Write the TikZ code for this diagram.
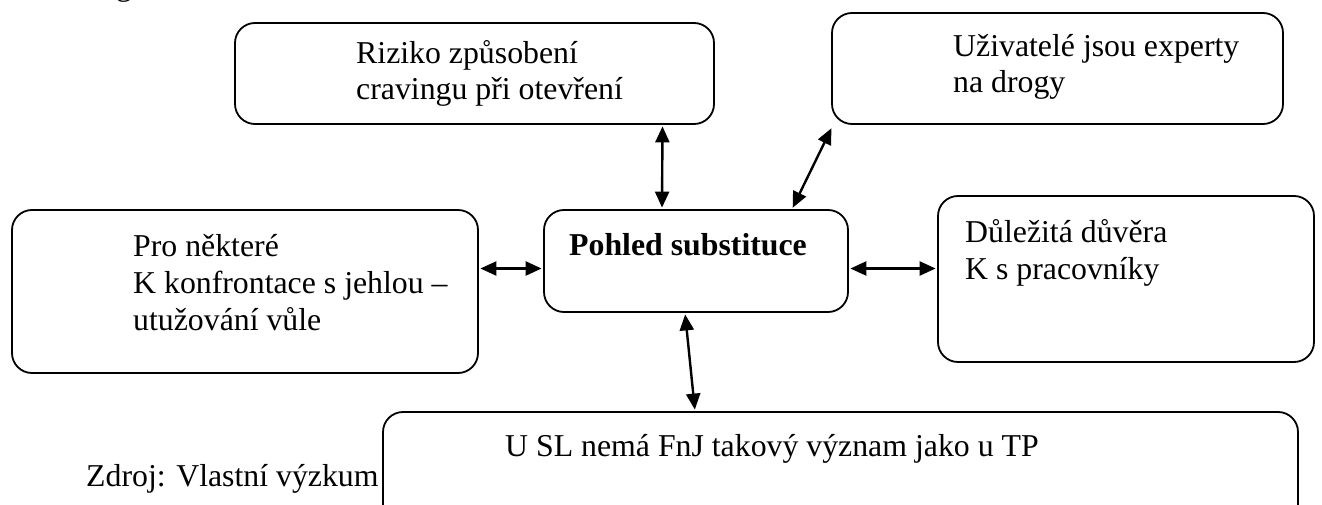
\documentclass[tikz,border=0pt]{standalone}
\usepackage{fontspec}
\setmainfont{Liberation Serif}
\usetikzlibrary{arrows.meta}
% left-aligned block of lines whose baseline is the first line
\newcommand{\rowsof}[1]{\begin{tabular}[t]{@{}l@{}}#1\end{tabular}}
\begin{document}
\begin{tikzpicture}[x=1pt,y=-1pt,
  box/.style={draw, line width=1.8pt, rounded corners=20pt, inner sep=0pt},
  txt/.style={inner sep=0pt, anchor=base west, font=\fontsize{31.8pt}{36pt}\selectfont},
  txtwide/.style={txt, font=\fontsize{31.8pt}{37pt}\selectfont},
  link/.style={line width=2.4pt, {Triangle[length=16pt,width=14pt]}-{Triangle[length=16pt,width=14pt]}, shorten <=1.5pt, shorten >=1.5pt}]
\useasboundingbox (0,0) rectangle (1322,505);

% descender of the preceding line of text
\node[txt] (prev) at (116,-4.5) {g};

% boxes
\node[box, minimum width=479pt, minimum height=101pt] (risk)   at (474.5,73.5) {};
\node[box, minimum width=451pt, minimum height=111pt] (users)  at (1057.5,68.5) {};
\node[box, minimum width=466pt, minimum height=163pt] (leftb)  at (245,291.5) {};
\node[box, minimum width=304pt, minimum height=102pt] (center) at (696,261) {};
\node[box, minimum width=376pt, minimum height=166pt] (rightb) at (1126,279) {};
\node[box, minimum width=915pt, minimum height=148pt] (usl)    at (840.5,486) {};

% box texts
\node[txt] (riskT)   at (356,64)  {\rowsof{Riziko způsobení\\cravingu při otevření}};
\node[txt] (usersT)  at (953,57)  {\rowsof{Uživatelé jsou experty\\na drogy}};
\node[txtwide] (leftT)  at (133,256) {\rowsof{Pro některé\\K konfrontace s jehlou –\\utužování vůle}};
\node[txt, font=\fontsize{31.8pt}{36pt}\selectfont\bfseries] (centerT) at (569,255) {Pohled substituce};
\node[txtwide] (rightT) at (965,242) {\rowsof{Důležitá důvěra\\K s pracovníky}};
\node[txt] (uslT)    at (505,456) {U SL nemá FnJ takový význam jako u TP};
\node[txt] (source)  at (86,486)  {Zdroj: Vlastní výzkum};

% connectors
\coordinate (hl) at (0,268.5);
\draw[link] ([xshift=-34pt]center.north) -- ([xshift=188pt]risk.south);
\draw[link] ([xshift=96pt]center.north) -- ([xshift=1pt,yshift=-2pt]users.south west);
\draw[link] (leftb.east |- hl) -- (center.west |- hl);
\draw[link] (center.east |- hl) -- (rightb.west |- hl);
\draw[link] ([xshift=-11pt]center.south) -- ([xshift=-145.5pt]usl.north);
\end{tikzpicture}
\end{document}
